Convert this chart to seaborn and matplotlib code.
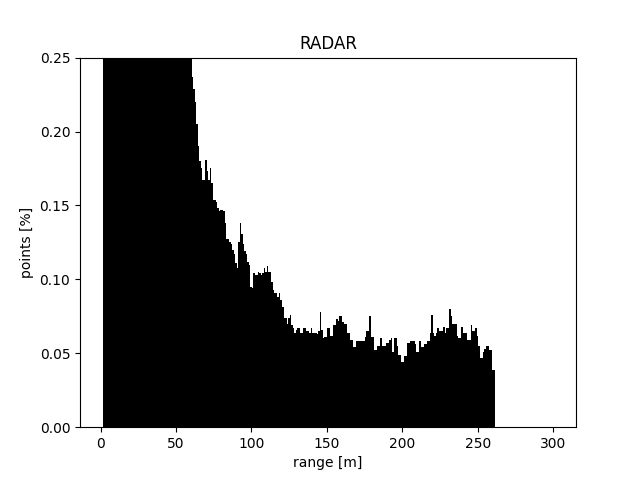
import numpy as np
import pandas as pd
import matplotlib
matplotlib.use("Agg")
import matplotlib.pyplot as plt
import seaborn as sns

# Histogram bins: 1 m wide, starting at 1.25 m, axis range up to 300.25 m
range_start = 1.25
bin_width = 1.0
range_end = 300.25

# Share of points per 1 m range bin [%] (bins from 1.25 m onward)
near_counts = [  # bins 1..58 (exceed the 0.25 display limit)
    0.62, 1.45, 2.10, 2.48, 2.61, 2.66, 2.59, 2.51, 2.43, 2.37,
    2.30, 2.22, 2.16, 2.08, 2.01, 1.95, 1.88, 1.80, 1.74, 1.68,
    1.61, 1.55, 1.49, 1.42, 1.37, 1.31, 1.25, 1.19, 1.14, 1.09,
    1.03, 0.98, 0.93, 0.88, 0.84, 0.79, 0.75, 0.71, 0.67, 0.63,
    0.60, 0.56, 0.53, 0.50, 0.47, 0.45, 0.42, 0.40, 0.38, 0.36,
    0.34, 0.33, 0.31, 0.30, 0.29, 0.28, 0.27, 0.26,
]
far_counts = [  # bins 59..260
    0.260, 0.237,
    0.229, 0.220, 0.205, 0.190, 0.180, 0.175, 0.167, 0.167, 0.181, 0.173,
    0.167, 0.175, 0.165, 0.154, 0.154, 0.152, 0.148, 0.146, 0.147, 0.147,
    0.146, 0.138, 0.127, 0.127, 0.125, 0.124, 0.120, 0.117, 0.111, 0.108,
    0.125, 0.138, 0.131, 0.124, 0.119, 0.117, 0.112, 0.110, 0.095, 0.094,
    0.104, 0.103, 0.103, 0.105, 0.104, 0.103, 0.104, 0.108, 0.105, 0.109,
    0.105, 0.105, 0.098, 0.093, 0.091, 0.091, 0.088, 0.091, 0.086, 0.081,
    0.074, 0.074, 0.070, 0.074, 0.076, 0.069, 0.067, 0.064, 0.066, 0.067,
    0.067, 0.064, 0.064, 0.067, 0.067, 0.065, 0.065, 0.064, 0.067, 0.064,
    0.064, 0.064, 0.063, 0.065, 0.078, 0.066, 0.060, 0.061, 0.061, 0.067,
    0.067, 0.062, 0.062, 0.069, 0.069, 0.073, 0.072, 0.075, 0.075, 0.071,
    0.070, 0.070, 0.064, 0.064, 0.059, 0.059, 0.054, 0.054, 0.058, 0.058,
    0.058, 0.058, 0.058, 0.058, 0.061, 0.065, 0.065, 0.075, 0.061, 0.061,
    0.052, 0.052, 0.055, 0.055, 0.060, 0.055, 0.055, 0.055, 0.057, 0.057,
    0.059, 0.060, 0.051, 0.060, 0.060, 0.055, 0.049, 0.049, 0.044, 0.044,
    0.048, 0.048, 0.057, 0.057, 0.058, 0.058, 0.058, 0.056, 0.051, 0.051,
    0.058, 0.054, 0.054, 0.056, 0.056, 0.058, 0.058, 0.064, 0.076, 0.064,
    0.062, 0.064, 0.067, 0.065, 0.065, 0.065, 0.068, 0.064, 0.067, 0.067,
    0.080, 0.075, 0.070, 0.070, 0.070, 0.062, 0.060, 0.060, 0.068, 0.064,
    0.064, 0.064, 0.059, 0.059, 0.069, 0.065, 0.065, 0.067, 0.062, 0.055,
    0.047, 0.047, 0.051, 0.053, 0.055, 0.055, 0.052, 0.052, 0.039, 0.039,
]

title = "RADAR"
x_label = "range [m]"
y_label = "points [%]"
y_max = 0.25

heights = np.array(near_counts + far_counts, dtype=float)
n_total = int(round((range_end - range_start) / bin_width))
heights = np.concatenate([heights, np.zeros(n_total - len(heights))])
centers = range_start + bin_width * (np.arange(n_total) + 0.5)

df = pd.DataFrame({"range": centers, "pct": heights})

fig, ax = plt.subplots(figsize=(6.4, 4.8), dpi=100)
sns.histplot(data=df, x="range", weights="pct",
             binwidth=bin_width, binrange=(range_start, range_end),
             stat="count", color="black", alpha=1.0,
             edgecolor="black", linewidth=0, ax=ax)
ax.set_ylim(0, y_max)
ax.set_title(title)
ax.set_xlabel(x_label)
ax.set_ylabel(y_label)
fig.savefig("out.png", dpi=100)
